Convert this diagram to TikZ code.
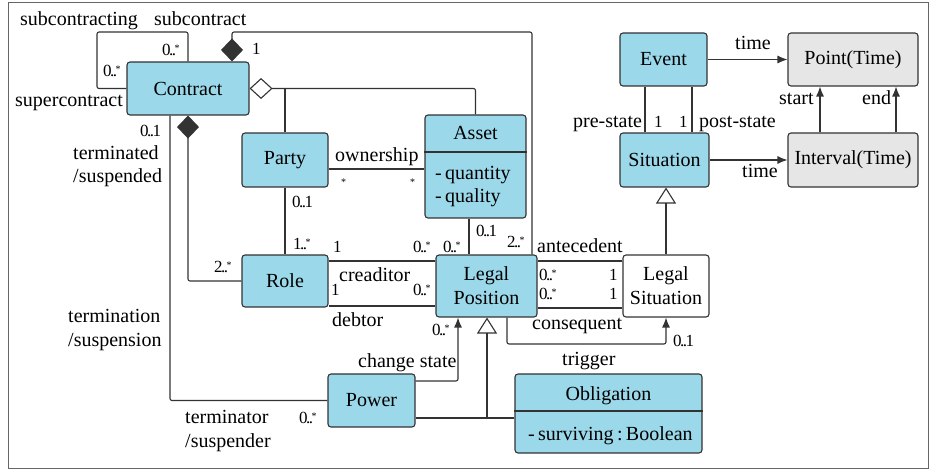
\documentclass[tikz,border=0pt]{standalone}
\usepackage{fontspec}
\setmainfont{Liberation Serif}
\usetikzlibrary{arrows.meta}
\definecolor{umlblue}{RGB}{155,216,233}
\definecolor{umlgray}{RGB}{230,230,230}
\newcommand\mlt[2]{#1\kern-1.6pt.\kern-1.6pt.\kern-1.3pt#2}
\newcommand\st{\raisebox{4.5pt}{\fontsize{10}{10}\selectfont *}}

\begin{document}
\begin{tikzpicture}[x=1pt,y=-1pt,font=\fontsize{20}{24}\selectfont,
  cls/.style={draw=black!80,line width=1.1pt,rounded corners=3pt,fill=umlblue,align=center,inner sep=0pt},
  lbl/.style={inner sep=0pt,anchor=base west},
  mul/.style={lbl,font=\fontsize{17}{19}\selectfont},
  line/.style={draw=black!80,line width=1.1pt,rounded corners=2pt},
  comp/.style={line,-{Diamond[length=23pt,width=22pt]}},
  agg/.style={line,-{Diamond[open,length=23pt,width=21pt]}},
  arr/.style={line,-{Latex[length=10pt,width=8pt]}},
  gen/.style={line,-{Triangle[open,length=16pt,width=20pt]}}]
\useasboundingbox (0,0) rectangle (935,470);
\draw[black!60,line width=1pt] (8,3) rectangle (928,468);
% classes
\node[cls,minimum width=122,minimum height=53] (contract) at (188,88.5) {Contract};
\node[cls,minimum width=86,minimum height=54] (party) at (285,160) {Party};
\node[cls,minimum width=101,minimum height=103] (asset) at (475.5,166.5) {};
\node[cls,minimum width=86,minimum height=52] (role) at (285,281) {Role};
\node[cls,minimum width=101,minimum height=62] (lp) at (486.5,286) {Legal\\Position};
\node[cls,fill=white,minimum width=86,minimum height=62] (ls) at (666,286) {Legal\\Situation};
\node[cls,minimum width=87,minimum height=53] (event) at (663.5,59.5) {Event};
\node[cls,minimum width=89,minimum height=54] (situation) at (664.5,160) {Situation};
\node[cls,fill=umlgray,minimum width=130,minimum height=53] (point) at (853,59.5) {Point(Time)};
\node[cls,fill=umlgray,minimum width=130,minimum height=54] (interval) at (853,160) {Interval(Time)};
\node[cls,minimum width=87,minimum height=53] (power) at (371.5,400.5) {Power};
\node[cls,minimum width=187,minimum height=79] (obligation) at (608.5,413.5) {};
% compartments
\node[lbl,anchor=base] (assetname) at (asset.center |- 0,140) {Asset};
\draw[line] (asset.west |- 0,152) -- (asset.east |- 0,152);
\node[lbl] (assetqn) at (435,180) {-\,quantity};
\node[lbl] (assetql) at (435,203) {-\,quality};
\node[lbl,anchor=base] (obname) at (obligation.center |- 0,400) {Obligation};
\draw[line] (obligation.west |- 0,411) -- (obligation.east |- 0,411);
\node[lbl] (obattr) at (528,440) {-\,surviving\,:\,Boolean};
% connectors
\draw[line] (contract.north) |- (97,32) |- (contract.west);
\draw[comp] (532,0 |- lp.north) |- (232,32) -- (232,0 |- contract.north);
\draw[agg] (asset.north) |- (contract.east);
\draw[line] (party.north) -- (party.north |- contract.east);
\draw[comp] (role.west) -| (contract.south);
\draw[line] (170,0 |- contract.south) |- (power.west);
\draw[line] (party) -- (role);
\draw[line] (party.east |- 0,169) -- (asset.west |- 0,169);
\draw[line] (469,0 |- asset.south) -- (469,0 |- lp.north);
\draw[line] (role.east |- 0,261) -- (lp.west |- 0,261);
\draw[line] (role.east |- 0,306) -- (lp.west |- 0,306);
\draw[line] (lp.east |- 0,261) -- (ls.west |- 0,261);
\draw[line] (lp.east |- 0,308) -- (ls.west |- 0,308);
\draw[arr] (507,0 |- lp.south) |- (ls.south |- 0,344) -- (ls.south);
\draw[gen] (ls.north) -- (ls.north |- situation.south);
\draw[line] (645,0 |- event.south) -- (645,0 |- situation.north);
\draw[line] (692,0 |- event.south) -- (692,0 |- situation.north);
\draw[arr] (event) -- (point);
\draw[arr] (situation) -- (interval);
\draw[arr] (820,0 |- interval.north) -- (820,0 |- point.south);
\draw[arr] (896,0 |- interval.north) -- (896,0 |- point.south);
\draw[arr] (power.east |- 0,381) -| (458,0 |- lp.south);
\coordinate (genjoin) at (487,418);
\draw[line] (power.east |- genjoin) -- (obligation.west |- genjoin);
\draw[gen] (genjoin) -- (genjoin |- lp.south);
% role names
\foreach \x/\y/\t [count=\i] in {20/26/subcontracting,154/26/subcontract,15/107/supercontract,
  73/160/terminated,73/183/{/suspended},68/323/termination,68/347/{/suspension},
  185/424/terminator,185/447/{/suspender},335/162/ownership,339/282/creaditor,332/327/debtor,
  358/368/change state,562/366/trigger,537/253/antecedent,532/330/consequent,735/50/time,
  779/105/start,862/105/end,573/128/pre-state,699/128/post-state,742/178/time}
  {\node[lbl] (role\i) at (\x,\y) {\t};}
% multiplicities
\foreach \x/\y/\t [count=\i] in {162/56/{\mlt{0}{\st}},103/77/{\mlt{0}{\st}},252/55/1,140/137/{\mlt{0}{1}},
  214/273/{\mlt{2}{\st}},299/424/{\mlt{0}{\st}},292/208/{\mlt{0}{1}},293/250/{\mlt{1}{\st}},
  341/190/{\st},410/190/{\st},333/253/1,413/253/{\mlt{0}{\st}},443/253/{\mlt{0}{\st}},476/237/{\mlt{0}{1}},
  507/248/{\mlt{2}{\st}},331/296/1,413/296/{\mlt{0}{\st}},432/336/{\mlt{0}{\st}},539/281/{\mlt{0}{\st}},
  539/300/{\mlt{0}{\st}},609/281/1,609/300/1,673/347/{\mlt{0}{1}},654/128/1,679/128/1}
  {\node[mul] (mult\i) at (\x,\y) {\t};}
\end{tikzpicture}
\end{document}
